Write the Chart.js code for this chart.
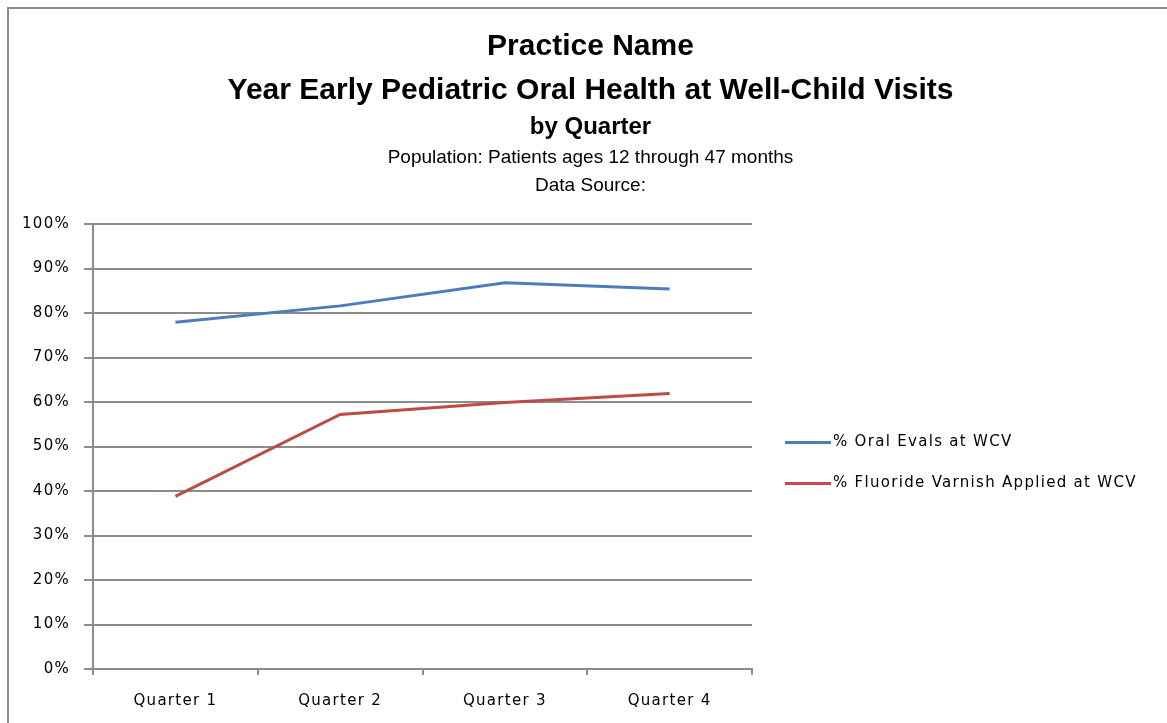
<!DOCTYPE html>
<html>
<head>
<meta charset="utf-8">
<script src="https://cdn.jsdelivr.net/npm/chart.js@4.4.1/dist/chart.umd.min.js"></script>
<style>
  html, body { margin: 0; padding: 0; background: #fff; overflow: hidden; }
  #frame { position: absolute; left: 7px; top: 7px; width: 1200px; height: 800px; border: 2px solid #8c8c8c; }
  #myChart { position: absolute; left: 0; top: 0; }
</style>
</head>
<body>
<div id="frame"></div>
<canvas id="myChart" width="1167" height="723"></canvas>
<script>
// chart data
var quarterLabels = ['Quarter 1', 'Quarter 2', 'Quarter 3', 'Quarter 4'];
var oralEvalPct = [77.9, 81.6, 86.8, 85.4];
var fluoridePct = [38.8, 57.2, 59.9, 61.9];
var seriesNames = ['% Oral Evals at WCV', '% Fluoride Varnish Applied at WCV'];
var seriesColors = ['#4a7ebb', '#be4b48'];
var titleLines = [
    'Practice Name',
    'Year Early Pediatric Oral Health at Well-Child Visits',
    'by Quarter',
    'Population: Patients ages 12 through 47 months',
    'Data Source:'
];

var axisGray = '#8c8c8c';
var tickFont = { family: '"DejaVu Sans", sans-serif', size: 15 };
var glyphGap = '1.3px';

// excel-ish title block (different size per line)
var titleBlock = {
    id: 'titleBlock',
    afterDraw: function (chart) {
        var ctx = chart.ctx;
        var cx = chart.width / 2 + 7;
        var rows = [
            [titleLines[0], 'bold 30px "Liberation Sans", Arial, sans-serif', 47],
            [titleLines[1], 'bold 30px "Liberation Sans", Arial, sans-serif', 91],
            [titleLines[2], 'bold 24px "Liberation Sans", Arial, sans-serif', 127],
            [titleLines[3], '19px "Liberation Sans", Arial, sans-serif', 158],
            [titleLines[4], '19px "Liberation Sans", Arial, sans-serif', 186]
        ];
        ctx.save();
        ctx.letterSpacing = '0px';
        ctx.fillStyle = '#000';
        ctx.textAlign = 'center';
        ctx.textBaseline = 'middle';
        rows.forEach(function (r) {
            ctx.font = r[1];
            ctx.fillText(r[0], cx, r[2]);
        });
        ctx.restore();
    }
};

// legend on the right, drawn from the datasets
var sideLegend = {
    id: 'sideLegend',
    afterDraw: function (chart) {
        var ctx = chart.ctx;
        var area = chart.chartArea;
        var x0 = area.right + 33;
        var y0 = (area.top + area.bottom) / 2 - 4;
        ctx.save();
        ctx.letterSpacing = glyphGap;
        ctx.font = '15px "DejaVu Sans", sans-serif';
        ctx.textBaseline = 'middle';
        ctx.fillStyle = '#000';
        chart.data.datasets.forEach(function (ds, i) {
            var y = y0 + i * 41;
            ctx.strokeStyle = ds.borderColor;
            ctx.lineWidth = 3;
            ctx.beginPath();
            ctx.moveTo(x0, y);
            ctx.lineTo(x0 + 46, y);
            ctx.stroke();
            ctx.fillText(ds.label, x0 + 48, y);
        });
        ctx.restore();
    }
};

// wider glyph spacing like the original render
var spacing = {
    id: 'spacing',
    beforeLayout: function (chart) { chart.ctx.letterSpacing = glyphGap; },
    beforeDraw: function (chart) { chart.ctx.letterSpacing = glyphGap; }
};

var config = {
    type: 'line',
    data: {
        labels: quarterLabels,
        datasets: [
            { label: seriesNames[0], data: oralEvalPct, borderColor: seriesColors[0], backgroundColor: seriesColors[0] },
            { label: seriesNames[1], data: fluoridePct, borderColor: seriesColors[1], backgroundColor: seriesColors[1] }
        ]
    },
    options: {
        responsive: false,
        devicePixelRatio: 1,
        animation: false,
        layout: { padding: { top: 224, left: 8, right: 415, bottom: -4 } },
        elements: {
            point: { radius: 0, hoverRadius: 0 },
            line: { tension: 0, borderWidth: 3 }
        },
        scales: {
            x: {
                offset: true,
                grid: { offset: true, drawOnChartArea: false, tickLength: 6, color: axisGray, lineWidth: 2 },
                border: { color: axisGray, width: 2 },
                ticks: { padding: 17, color: '#000', font: tickFont, maxRotation: 0 }
            },
            y: {
                min: 0,
                max: 100,
                grid: { color: axisGray, lineWidth: 2, tickLength: 9 },
                border: { color: axisGray, width: 2 },
                ticks: {
                    stepSize: 10,
                    padding: 14,
                    color: '#000',
                    font: tickFont,
                    callback: function (v) { return v + '%'; }
                }
            }
        },
        plugins: {
            legend: { display: false },
            title: { display: false },
            tooltip: { enabled: false }
        }
    },
    plugins: [spacing, titleBlock, sideLegend]
};

var myChart = new Chart(document.getElementById('myChart'), config);
</script>
</body>
</html>
